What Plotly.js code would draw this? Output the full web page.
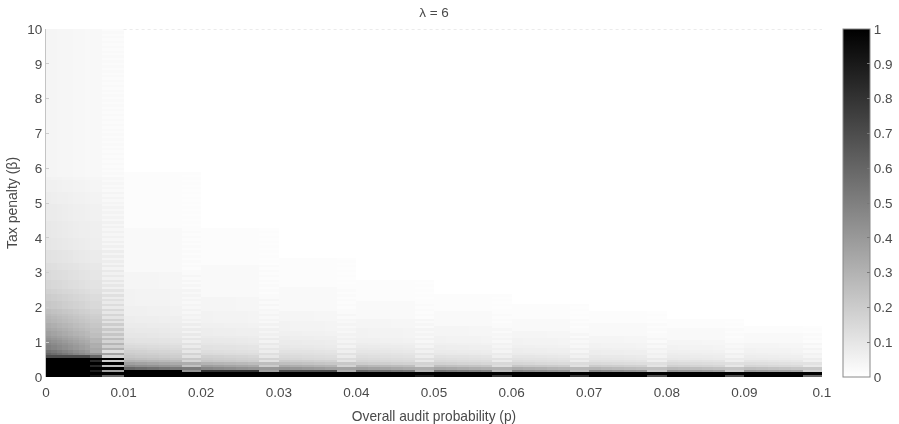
<!DOCTYPE html>
<html>
<head>
<meta charset="utf-8">
<script src="https://cdn.plot.ly/plotly-3.0.1.min.js"></script>
<style>
html,body{margin:0;padding:0;background:#fff}
#chart{width:899px;height:424px;filter:blur(0.4px)}
</style>
</head>
<body>
<div id="chart"></div>
<script>
// Grey levels (share of the colour scale) whose upper beta limit is read for each p band
const grayLevels = [1,.9,.8,.7,.6,.55,.5,.475,.45,.425,.4,.375,.35,.325,.3,.285,.27,.25,.22,.2,.18,.16,.145,.13,.115,.1,.09,.08,.07,.06,.05,.04,.025,.012];
// Upper beta limit of each grey level, one list per 0.01-wide band of p
const band01 = [.54,.56,.58,.62,.72,.8,.9,.97,1.05,1.12,1.2,1.3,1.4,1.52,1.65,1.72,1.8,1.95,2.15,2.35,2.55,2.8,3.05,3.3,3.65,4,4.5,5,5.35,5.7,5.75,10,10,10];
const band02 = [.18,.19,.2,.22,.25,.27,.29,.305,.32,.34,.36,.385,.41,.44,.47,.49,.51,.56,.61,.67,.74,.82,.91,1,1.12,1.25,1.4,1.55,1.77,2,2.5,3,4.3,5.9];
const band03 = [.16,.17,.18,.195,.21,.225,.24,.255,.27,.285,.3,.32,.34,.365,.39,.405,.42,.45,.49,.54,.6,.66,.73,.8,.9,1,1.11,1.22,1.38,1.55,1.9,2.3,3.2,4.3];
const band04 = [.15,.155,.165,.18,.195,.21,.22,.23,.24,.255,.27,.285,.3,.32,.34,.35,.36,.39,.42,.46,.51,.56,.62,.68,.76,.84,.93,1.03,1.16,1.3,1.6,1.9,2.6,3.4];
const band05 = [.14,.145,.155,.165,.18,.19,.2,.21,.22,.232,.245,.258,.27,.29,.31,.32,.33,.35,.38,.41,.45,.5,.55,.6,.67,.74,.82,.9,1,1.12,1.38,1.65,2.2,2.8];
const band06 = [.13,.135,.145,.155,.17,.178,.185,.195,.205,.215,.225,.238,.25,.265,.28,.29,.3,.32,.34,.37,.41,.45,.49,.54,.6,.66,.73,.8,.9,1,1.22,1.45,1.9,2.4];
const band07 = [.125,.13,.14,.15,.16,.168,.175,.182,.19,.2,.21,.222,.235,.248,.26,.27,.28,.3,.32,.34,.37,.41,.45,.49,.54,.6,.66,.72,.81,.9,1.1,1.3,1.7,2.1];
const band08 = [.12,.125,.135,.145,.155,.162,.17,.178,.185,.192,.2,.21,.22,.232,.245,.252,.26,.28,.3,.32,.35,.38,.41,.45,.5,.55,.6,.66,.74,.82,1,1.17,1.53,1.9];
const band09 = [.115,.12,.13,.14,.15,.155,.16,.168,.175,.182,.19,.2,.21,.22,.23,.24,.25,.265,.28,.3,.33,.36,.39,.42,.46,.51,.56,.61,.68,.75,.91,1.07,1.4,1.7];
const band10 = [.11,.115,.125,.135,.145,.15,.155,.162,.17,.175,.18,.19,.2,.21,.22,.228,.235,.25,.265,.285,.31,.34,.36,.39,.43,.47,.52,.57,.63,.7,.84,.98,1.25,1.5];
const band11 = [.105,.11,.12,.13,.14,.145,.15,.155,.16,.165,.17,.18,.19,.2,.21,.218,.225,.24,.255,.27,.295,.32,.34,.37,.4,.44,.48,.53,.59,.65,.78,.92,1.17,1.4];
const bands = [band01,band02,band03,band04,band05,band06,band07,band08,band09,band10,band11];

// Within a band: sub-column edges (fraction of band), how much the greys fade, stripe strength
const subEdges1 = [0,.07,.14,.21,.28,.35,.42,.5,.57,.72,1];
const subFade1  = [1,.96,.92,.88,.84,.8,.76,.72,.68,.6];
const subStripe1 = [0,0,0,0,0,0,0,0,.2,1];
const subEdgesN = [0,.15,.3,.45,.6,.75,1];
const subFadeN  = [1,.97,.94,.91,.88,.86];
const subStripeN = [0,0,0,0,0,1];
const stripeLift1 = .2;      // light stripes read the next band this far up in beta
const stripeLiftN = .1;
const stripeShare = .62;     // light stripes hold this share of the dark stripe
const rowStep    = .07;      // stripe rows
const xTicks = [0,.01,.02,.03,.04,.05,.06,.07,.08,.09,.1];
const xLabels = ['0','0.01','0.02','0.03','0.04','0.05','0.06','0.07','0.08','0.09','0.1'];
const yTicks = [0,1,2,3,4,5,6,7,8,9,10];
const cbTicks = [0,.1,.2,.3,.4,.5,.6,.7,.8,.9,1];
const cbLabels = ['0','0.1','0.2','0.3','0.4','0.5','0.6','0.7','0.8','0.9','1'];

function levelAt(limits, beta, fade) {
  for (let i = 0; i < limits.length; i++) {
    if (beta <= limits[i]) return grayLevels[i] < .7 ? grayLevels[i] * fade : grayLevels[i];
  }
  return 0;
}
const yEdges = [];
for (let i = 0; i * rowStep < 10; i++) yEdges.push(i * rowStep);
yEdges.push(10);
const xEdges = [0], cols = [];
for (let b = 0; b < 10; b++) {
  const edges = b === 0 ? subEdges1 : subEdgesN;
  for (let s = 0; s < edges.length - 1; s++) {
    xEdges.push((b + edges[s + 1]) * .01);
    cols.push({b, fade: (b === 0 ? subFade1 : subFadeN)[s], st: (b === 0 ? subStripe1 : subStripeN)[s]});
  }
}
const z = [];
for (let r = 0; r < yEdges.length - 1; r++) {
  const beta = (yEdges[r] + yEdges[r + 1]) / 2;
  const isLight = r % 2 === 0;
  z.push(cols.map(c => {
    const dark = levelAt(bands[c.b], beta, c.fade);
    if (!isLight || !c.st || (c.st < 1 && beta > 1.3)) return dark;
    const next = levelAt(bands[c.b + 1], beta + (c.b === 0 ? stripeLift1 : stripeLiftN), 1);
    let light = Math.min(dark, next);
    if (c.b === 0 && beta > .8) light = Math.max(light, dark * stripeShare);
    if (c.b > 0 && beta > .2) light = dark * stripeShare;
    return dark * (1 - c.st) + light * c.st;
  }));
}

const grey = '#4a4a4a';
const family = '"Liberation Sans", Arial, sans-serif';
const fnt = {family, size: 13.5, color: grey};
const cbX = (843 - 46) / 776;

Plotly.newPlot('chart', [{
  type: 'heatmap', x: xEdges, y: yEdges, z: z, zmin: 0, zmax: 1,
  colorscale: [[0, '#ffffff'], [1, '#000000']],
  colorbar: {
    x: cbX, xanchor: 'left', y: 0, yanchor: 'bottom', len: 1, thickness: 27, xpad: 0, ypad: 0,
    outlinecolor: '#888', outlinewidth: 1, tickmode: 'array', tickvals: cbTicks, ticktext: cbLabels,
    ticks: 'inside', ticklen: 3, tickcolor: '#777', tickfont: fnt
  },
  hoverinfo: 'skip'
}], {
  width: 899, height: 424,
  margin: {l: 46, r: 77, t: 29, b: 47, autoexpand: false},
  paper_bgcolor: '#fff', plot_bgcolor: '#fff',
  font: fnt,
  title: {text: 'λ = 6', x: .5, xref: 'paper', xanchor: 'center', y: 1 - 12.5 / 424, yref: 'container', yanchor: 'middle',
    font: {family, size: 13.5, color: grey}},
  xaxis: {range: [0, .1], tickmode: 'array', tickvals: xTicks, ticktext: xLabels, ticks: '',
    showgrid: false, zeroline: false, showline: false, ticklabelstandoff: 5,
    title: {text: 'Overall audit probability (p)', standoff: 13, font: {family, size: 13.75, color: grey}}},
  yaxis: {range: [0, 10], tickmode: 'array', tickvals: yTicks, ticks: 'inside', ticklen: 3, tickcolor: '#ccc',
    showgrid: false, zeroline: false, showline: true, linecolor: '#c4c4c4', linewidth: 1,
    title: {text: 'Tax penalty (β)', standoff: 6, font: {family, size: 14, color: grey}}},
  shapes: [{type: 'line', xref: 'x', yref: 'y', x0: .01, x1: .1, y0: 10, y1: 10,
    line: {color: '#d8d8d8', width: 1, dash: 'dot'}}]
}, {displayModeBar: false, staticPlot: true}).then(() => {
  document.querySelectorAll('.hm image').forEach(im => { im.style.filter = 'blur(0.55px)'; });
});
</script>
</body>
</html>
